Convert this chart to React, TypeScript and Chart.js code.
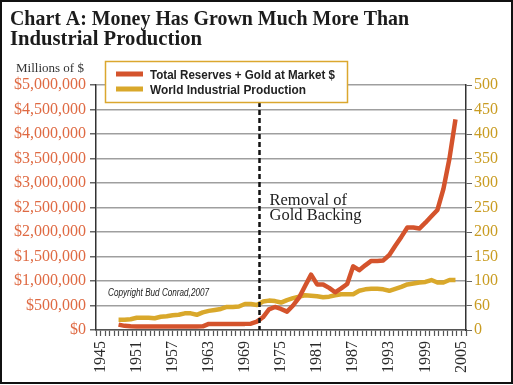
import React, { useEffect, useRef } from 'react';
import { Chart, registerables } from 'chart.js';

Chart.register(...registerables);

const titleLines = ['Chart A: Money Has Grown Much More Than', 'Industrial Production'];
const leftAxisTitle = 'Millions of $';
const seriesNames = ['Total Reserves + Gold at Market $', 'World Industrial Production'];
const annotationLines = ['Removal of', 'Gold Backing'];
const copyrightText = 'Copyright Bud Conrad,2007';
const goldRemovalYear = 1971.4;

const years = [
  1948, 1949, 1950, 1951, 1952, 1953, 1954, 1955, 1956, 1957,
  1958, 1959, 1960, 1961, 1962, 1963, 1964, 1965, 1966, 1967,
  1968, 1969, 1970, 1971, 1972, 1973, 1974, 1975, 1976, 1977,
  1978, 1979, 1980, 1981, 1982, 1983, 1984, 1985, 1986, 1987,
  1988, 1989, 1990, 1991, 1992, 1993, 1994, 1995, 1996, 1997,
  1998, 1999, 2000, 2001, 2002, 2003, 2004,
];

// Millions of $
const reserves = [
  110000, 85000, 75000, 70000, 70000, 70000, 70000, 70000, 70000, 70000,
  70000, 70000, 70000, 70000, 75000, 125000, 125000, 125000, 125000, 125000,
  125000, 125000, 130000, 170000, 260000, 420000, 470000, 430000, 375000, 500000,
  660000, 900000, 1130000, 930000, 930000, 860000, 770000, 850000, 940000, 1300000,
  1220000, 1320000, 1410000, 1410000, 1420000, 1530000, 1720000, 1900000, 2090000, 2090000,
  2070000, 2190000, 2320000, 2450000, 2880000, 3500000, 4300000,
];

// Index (right axis)
const production = [
  21, 21, 22, 25, 25, 25, 24, 27, 28, 30,
  31, 34, 34, 31, 36, 39, 41, 43, 47, 47,
  48, 53, 53, 51, 58, 60, 59, 56, 61, 65,
  68, 71, 70, 69, 67, 68, 71, 73, 73, 73,
  80, 83, 84, 84, 83, 80, 84, 88, 93, 95,
  97, 98, 102, 97, 97, 102, 102,
];

const leftTickLabels = [
  '$0', '$500,000', '$1,000,000', '$1,500,000', '$2,000,000', '$2,500,000',
  '$3,000,000', '$3,500,000', '$4,000,000', '$4,500,000', '$5,000,000',
];
const rightTickLabels = ['0', '60', '100', '150', '200', '250', '300', '350', '400', '450', '500'];
const xLabelYears = [1945, 1951, 1957, 1963, 1969, 1975, 1981, 1987, 1993, 1999, 2005];

const X_MIN = 1944.25;
const X_MAX = 2005.75;
const X_TICK_STEP = 0.75;

const RED = '#d4532c';
const GOLD = '#d9a82b';
const SERIF = '"Liberation Serif", "Times New Roman", serif';
const SANS = '"Liberation Sans", Arial, sans-serif';

const overlayPlugin = {
  id: 'overlay',
  afterDatasetsDraw(chart: any) {
    const { ctx, chartArea, scales } = chart;
    const x = Math.round(scales.x.getPixelForValue(goldRemovalYear)) + 0.5;
    ctx.save();
    ctx.strokeStyle = '#111';
    ctx.lineWidth = 2.5;
    ctx.setLineDash([5, 3]);
    ctx.beginPath();
    ctx.moveTo(x, 102);
    ctx.lineTo(x, chartArea.bottom);
    ctx.stroke();
    ctx.setLineDash([]);

    // annotation text
    ctx.fillStyle = '#1e1e1e';
    ctx.font = `16.5px ${SERIF}`;
    ctx.textAlign = 'left';
    ctx.textBaseline = 'alphabetic';
    ctx.fillText(annotationLines[0], x + 10, 204.5);
    ctx.fillText(annotationLines[1], x + 10, 219.5);

    // copyright
    ctx.font = `italic 10.5px ${SANS}`;
    ctx.fillStyle = '#222';
    ctx.fillText(copyrightText, 108, 295.5, 101);
    ctx.restore();
  },
  afterDraw(chart: any) {
    const { ctx } = chart;
    ctx.save();
    ctx.textAlign = 'left';
    ctx.textBaseline = 'alphabetic';

    // title
    ctx.fillStyle = '#1c1c1c';
    ctx.font = `bold 21px ${SERIF}`;
    ctx.fillText(titleLines[0], 10, 24.5, 399);
    ctx.fillText(titleLines[1], 10, 44.5, 192);

    // left axis title
    ctx.font = `13px ${SERIF}`;
    ctx.fillStyle = '#333';
    ctx.fillText(leftAxisTitle, 16, 72);

    // legend box
    ctx.fillStyle = '#fff';
    ctx.fillRect(105.5, 61.5, 242, 41);
    ctx.strokeStyle = '#dba72e';
    ctx.lineWidth = 1.5;
    ctx.strokeRect(105.5, 61.5, 242, 41);

    const colors = [RED, GOLD];
    const widths = [185, 156];
    const rows = [74, 89];
    ctx.font = `bold 13.5px ${SANS}`;
    for (let i = 0; i < 2; i++) {
      ctx.fillStyle = colors[i];
      ctx.fillRect(116, rows[i] - 2.5, 27, 5);
      ctx.fillStyle = '#222';
      ctx.fillText(chart.data.datasets[i].label, 150, rows[i] + 4.5, widths[i]);
    }

    // frame
    ctx.strokeStyle = '#111';
    ctx.lineWidth = 2;
    ctx.strokeRect(1, 1, 511, 382);
    ctx.restore();
  },
};

export default function App() {
  const ref = useRef<HTMLCanvasElement>(null);

  useEffect(() => {
    const canvas = ref.current;
    if (!canvas) return;
    const chart = new Chart(canvas, {
      type: 'line',
      data: {
        datasets: [
          {
            label: seriesNames[0],
            data: years.map((yr, i) => ({ x: yr, y: reserves[i] })),
            borderColor: RED,
            backgroundColor: RED,
            borderWidth: 4.5,
            pointRadius: 0,
            tension: 0,
            yAxisID: 'y',
            borderJoinStyle: 'round',
          },
          {
            label: seriesNames[1],
            data: years.map((yr, i) => ({ x: yr, y: production[i] })),
            borderColor: GOLD,
            backgroundColor: GOLD,
            borderWidth: 4.5,
            pointRadius: 0,
            tension: 0,
            yAxisID: 'y1',
            borderJoinStyle: 'round',
          },
        ],
      },
      options: {
        responsive: false,
        animation: false,
        events: [],
        layout: { padding: { top: 85, left: 0, right: 0, bottom: 0 } },
        plugins: {
          legend: { display: false },
          tooltip: { enabled: false },
          title: { display: false },
        },
        scales: {
          x: {
            type: 'linear',
            min: X_MIN,
            max: X_MAX,
            afterBuildTicks: (scale: any) => {
              const t: any[] = [];
              for (let v = X_MIN; v <= X_MAX + 1e-9; v += X_TICK_STEP) t.push({ value: v });
              scale.ticks = t;
            },
            afterFit: (scale: any) => {
              scale.height = 55;
            },
            grid: {
              drawOnChartArea: false,
              drawTicks: true,
              tickLength: 6,
              tickColor: '#555',
              tickWidth: 1.2,
            },
            border: { display: true, color: '#555', width: 1.5 },
            ticks: {
              autoSkip: false,
              minRotation: 90,
              maxRotation: 90,
              padding: 5,
              color: '#2a2a2a',
              font: { family: SERIF, size: 16 },
              callback: (value: any) => {
                const r = Math.round(value);
                return Math.abs(value - r) < 1e-6 && xLabelYears.includes(r) ? String(r) : '';
              },
            },
          },
          y: {
            type: 'linear',
            position: 'left',
            min: 0,
            max: 5000000,
            afterFit: (scale: any) => {
              scale.width = 96;
            },
            grid: {
              color: '#9f9f9f',
              lineWidth: 1.5,
              tickLength: 6,
              tickColor: '#666',
            },
            border: { display: true, color: '#333', width: 1.5 },
            ticks: {
              stepSize: 500000,
              padding: 4,
              color: '#df6a43',
              font: { family: SERIF, size: 16 },
              callback: (_v: any, i: number) => leftTickLabels[i],
            },
          },
          y1: {
            type: 'linear',
            position: 'right',
            min: 0,
            max: 500,
            afterFit: (scale: any) => {
              scale.width = 47;
            },
            grid: {
              drawOnChartArea: false,
              tickLength: 6,
              tickColor: '#666',
            },
            border: { display: true, color: '#333', width: 1.5 },
            ticks: {
              stepSize: 50,
              padding: 2,
              color: '#c99c22',
              font: { family: SERIF, size: 16 },
              callback: (_v: any, i: number) => rightTickLabels[i],
            },
          },
        },
      } as any,
      plugins: [overlayPlugin],
    });
    return () => chart.destroy();
  }, []);

  return (
    <div style={{ position: 'fixed', left: 0, top: 0, width: 513, height: 385, background: '#fff' }}>
      <canvas ref={ref} width={513} height={385} style={{ display: 'block' }} />
    </div>
  );
}
